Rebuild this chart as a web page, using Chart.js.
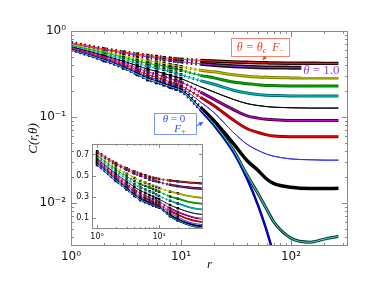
<!DOCTYPE html>
<html>
<head>
<meta charset="utf-8">
<script src="https://cdn.jsdelivr.net/npm/chart.js@4.4.0/dist/chart.umd.min.js"></script>
<style>
  html, body { margin: 0; padding: 0; background: #fff; }
  #wrap { position: relative; width: 385px; height: 298px; }
  #main { position: absolute; left: 0; top: 0; }
  #inset { position: absolute; left: 72px; top: 136px; }
</style>
</head>
<body>
<div id="wrap">
  <canvas id="main" width="385" height="298"></canvas>
  <canvas id="inset" width="140" height="108"></canvas>
</div>
<script>
const radii = [1, 2, 3, 4, 5, 6, 7, 8, 9, 10, 15, 20, 30, 40, 50, 60, 70, 100, 150, 200, 270];

// C(r, theta), top curve (theta = theta_c) to bottom curve (theta = 0)
const redTop   = [0.73, 0.62, 0.57, 0.54, 0.52, 0.505, 0.49, 0.482, 0.475, 0.47, 0.455, 0.447, 0.437, 0.432, 0.428, 0.426, 0.424, 0.422, 0.421, 0.42, 0.42];
const purple   = [0.715, 0.605, 0.555, 0.52, 0.50, 0.482, 0.465, 0.455, 0.447, 0.44, 0.415, 0.403, 0.39, 0.383, 0.379, 0.377, 0.376, 0.375, 0.374, 0.374, 0.374];
const olive    = [0.70, 0.58, 0.52, 0.48, 0.45, 0.435, 0.42, 0.405, 0.395, 0.385, 0.35, 0.335, 0.31, 0.298, 0.292, 0.289, 0.287, 0.285, 0.284, 0.284, 0.284];
const green    = [0.69, 0.56, 0.495, 0.45, 0.42, 0.405, 0.39, 0.375, 0.362, 0.35, 0.305, 0.285, 0.255, 0.243, 0.237, 0.233, 0.232, 0.23, 0.229, 0.229, 0.229];
const cyan     = [0.675, 0.54, 0.47, 0.42, 0.39, 0.372, 0.355, 0.34, 0.325, 0.31, 0.265, 0.24, 0.205, 0.19, 0.183, 0.179, 0.178, 0.176, 0.175, 0.175, 0.175];
const blackMid = [0.66, 0.52, 0.445, 0.395, 0.36, 0.34, 0.32, 0.305, 0.292, 0.28, 0.225, 0.195, 0.16, 0.143, 0.136, 0.132, 0.13, 0.128, 0.127, 0.127, 0.127];
const magenta  = [0.65, 0.505, 0.425, 0.37, 0.335, 0.313, 0.295, 0.28, 0.267, 0.255, 0.195, 0.16, 0.122, 0.103, 0.097, 0.094, 0.093, 0.091, 0.091, 0.091, 0.091];
const red      = [0.64, 0.49, 0.41, 0.35, 0.31, 0.29, 0.27, 0.255, 0.242, 0.23, 0.17, 0.135, 0.092, 0.073, 0.066, 0.062, 0.06, 0.059, 0.059, 0.059, 0.059];
const blue     = [0.63, 0.48, 0.395, 0.335, 0.295, 0.274, 0.255, 0.24, 0.228, 0.218, 0.15, 0.112, 0.066, 0.048, 0.041, 0.037, 0.035, 0.0325, 0.0318, 0.0315, 0.0315];
const blackLow = [0.62, 0.47, 0.385, 0.325, 0.285, 0.263, 0.245, 0.232, 0.22, 0.21, 0.13, 0.09, 0.049, 0.031, 0.024, 0.019, 0.0168, 0.0152, 0.0147, 0.0147, 0.0148];
const teal     = [0.61, 0.46, 0.375, 0.315, 0.275, 0.255, 0.24, 0.226, 0.215, 0.205, 0.123, 0.083, 0.041, 0.021, 0.013, 0.0085, 0.006, 0.0039, 0.0035, 0.0038, 0.0041];
const navy     = [0.60, 0.45, 0.37, 0.31, 0.27, 0.25, 0.235, 0.22, 0.21, 0.20, 0.12, 0.08, 0.039, 0.019, 0.0095, 0.0048, 0.0024, 0.0003, null, null, null];

const series = [redTop, purple, olive, green, cyan, blackMid, magenta, red, blue, blackLow, teal, navy];
const lineColors = ['#ff2a1a', '#9a30d8', '#cccc00', '#00b400', '#00cccc', '#000000', '#d400d4', '#ff0000', '#3030ff', '#000000', '#40e0d0', '#0000ff'];
const bandColors = ['#2a0000', '#1a0a1a', '#7c7c00', '#007400', '#006c6c', '#000000', '#4c004c', '#8c0000', '#3030ff', '#000000', '#0c3434', '#000078'];
const bandWidths = [3.5, 4, 3, 3, 3, 1, 3, 3, 1, 3.5, 3, 2.5];

// tick values / labels
const mainXMajor = [1, 10, 100];
const mainXMinor = [2, 3, 4, 5, 6, 7, 8, 9, 20, 30, 40, 50, 60, 70, 80, 90, 200, 300];
const mainYMajor = [0.01, 0.1, 1];
const mainYMinor = [0.004, 0.005, 0.006, 0.007, 0.008, 0.009, 0.02, 0.03, 0.04, 0.05, 0.06, 0.07, 0.08, 0.09, 0.2, 0.3, 0.4, 0.5, 0.6, 0.7, 0.8, 0.9];
const insetXMajor = [1, 10];
const insetXMinor = [2, 3, 4, 5, 6, 7, 8, 9, 20, 30, 40, 50];
const insetYTicks = [0.1, 0.3, 0.5, 0.7];
const powLabels = { 1: '10\u2070', 10: '10\u00b9', 100: '10\u00b2', 0.1: '10\u207b\u00b9', 0.01: '10\u207b\u00b2' };

function tickList(major, minor) {
  return major.map(v => ({ value: v, major: true }))
    .concat(minor.map(v => ({ value: v, major: false })));
}

function buildDatasets(k) {
  const ds = [];
  series.forEach((vals, i) => {
    const pts = radii.map((r, j) => ({ x: r, y: vals[j] }));
    ds.push({
      data: pts, order: 1, borderColor: lineColors[i], borderWidth: k.line,
      pointRadius: 0, cubicInterpolationMode: 'monotone'
    });
    ds.push({
      data: pts, order: 2, borderColor: bandColors[i], borderWidth: bandWidths[i] * k.band,
      pointStyle: 'rect', pointBorderWidth: 0, pointBackgroundColor: '#000',
      pointRadius: c => (c.raw && c.raw.x <= k.markMax) ? k.mark : 0,
      cubicInterpolationMode: 'monotone',
      segment: { borderDash: c => c.p1.parsed.x <= 15 ? [1.5, 3] : undefined }
    });
  });
  return ds;
}

// frame and inward ticks on all four sides
const frameTicks = {
  id: 'frameTicks',
  beforeDraw(chart) {
    const { ctx, chartArea: a } = chart;
    ctx.save();
    ctx.fillStyle = '#fff';
    ctx.fillRect(a.left, a.top, a.right - a.left, a.bottom - a.top);
    ctx.restore();
  },
  afterDatasetsDraw(chart, args, opts) {
    const { ctx, chartArea: a, scales } = chart;
    ctx.save();
    ctx.strokeStyle = '#8a8a8a';
    ctx.lineWidth = 1;
    ctx.beginPath();
    scales.x.ticks.forEach(t => {
      const p = Math.round(scales.x.getPixelForValue(t.value)) + 0.5;
      const L = t.major ? opts.major : opts.minor;
      ctx.moveTo(p, a.bottom); ctx.lineTo(p, a.bottom - L);
      ctx.moveTo(p, a.top); ctx.lineTo(p, a.top + L);
    });
    scales.y.ticks.forEach(t => {
      const p = Math.round(scales.y.getPixelForValue(t.value)) + 0.5;
      const L = t.major ? opts.major : opts.minor;
      ctx.moveTo(a.left, p); ctx.lineTo(a.left + L, p);
      ctx.moveTo(a.right, p); ctx.lineTo(a.right - L, p);
    });
    ctx.stroke();
    ctx.strokeRect(Math.round(a.left) + 0.5, Math.round(a.top) + 0.5,
      Math.round(a.right - a.left) - 1, Math.round(a.bottom - a.top) - 1);
    ctx.restore();
  }
};

function drawRuns(ctx, runs, cx, cy, color) {
  let w = 0;
  runs.forEach(r => {
    ctx.font = (r[2] ? 'italic ' : '') + r[1] + 'px "Liberation Serif", serif';
    r.w = ctx.measureText(r[0]).width;
    w += r.w;
  });
  let x = cx - w / 2;
  ctx.fillStyle = color;
  ctx.textAlign = 'left';
  ctx.textBaseline = 'middle';
  runs.forEach(r => {
    ctx.font = (r[2] ? 'italic ' : '') + r[1] + 'px "Liberation Serif", serif';
    ctx.fillText(r[0], x, cy + (r[3] || 0));
    x += r.w;
  });
}

function arrow(ctx, x0, y0, x1, y1, color) {
  ctx.strokeStyle = color;
  ctx.fillStyle = color;
  ctx.lineWidth = 1;
  ctx.beginPath(); ctx.moveTo(x0, y0); ctx.lineTo(x1, y1); ctx.stroke();
  const a = Math.atan2(y1 - y0, x1 - x0), h = 4.5;
  ctx.beginPath();
  ctx.moveTo(x1, y1);
  ctx.lineTo(x1 - h * Math.cos(a - 0.5), y1 - h * Math.sin(a - 0.5));
  ctx.lineTo(x1 - h * Math.cos(a + 0.5), y1 - h * Math.sin(a + 0.5));
  ctx.closePath();
  ctx.fill();
}

const notes = {
  id: 'notes',
  afterDraw(chart) {
    const { ctx, scales: { x, y } } = chart;
    const P = (r, c) => [x.getPixelForValue(r), y.getPixelForValue(c)];
    ctx.save();

    // theta = theta_c  F_-
    let [bx, by] = P(52.8, 0.648);
    ctx.fillStyle = '#fff';
    ctx.fillRect(bx - 29, by - 9, 58, 18);
    ctx.strokeStyle = '#f3836f';
    ctx.strokeRect(Math.round(bx - 29) + 0.5, Math.round(by - 9) + 0.5, 58, 18);
    drawRuns(ctx, [['\u03b8 = \u03b8', 12, true], ['c', 8, true, 3], ['  F', 12, true], ['\u2212', 8, false, 3]], bx, by + 0.5, '#f0402c');
    let [a0x, a0y] = P(59.9, 0.512), [a1x, a1y] = P(55.1, 0.46);
    arrow(ctx, a0x, a0y, a1x, a1y, '#f0402c');

    // theta = 1.0
    [bx, by] = P(189, 0.343);
    ctx.fillStyle = '#fff';
    ctx.fillRect(bx - 20, by - 6, 40, 12);
    drawRuns(ctx, [['\u03b8', 13, true], [' = 1.0', 13, false]], bx, by, '#9a40d8');

    // theta = 0, F_+
    [bx, by] = P(8.82, 0.0834);
    ctx.fillStyle = '#fff';
    ctx.fillRect(bx - 21, by - 10.5, 42, 21);
    ctx.strokeStyle = '#7f9cf2';
    ctx.strokeRect(Math.round(bx - 21) + 0.5, Math.round(by - 10.5) + 0.5, 42, 21);
    drawRuns(ctx, [['\u03b8', 11, true], [' = 0', 11, false]], bx - 1, by - 5, '#2a55f0');
    drawRuns(ctx, [['F', 11, true], ['+', 8, false, 3]], bx + 5, by + 5, '#2a55f0');
    [a0x, a0y] = P(13.7, 0.0786);
    [a1x, a1y] = P(15.85, 0.0863);
    arrow(ctx, a0x, a0y, a1x, a1y, '#2a55f0');

    ctx.restore();
  }
};

const tickFont = { family: 'DejaVu Sans', size: 12 };
const noGrid = { display: false, drawTicks: false, tickLength: 0 };

new Chart(document.getElementById('main'), {
  type: 'line',
  data: { datasets: buildDatasets({ line: 1, band: 1, mark: 2.2, markMax: 10 }) },
  options: {
    responsive: false,
    animation: false,
    layout: { padding: { top: 31, right: 37, left: 0, bottom: 0 } },
    plugins: {
      legend: { display: false },
      tooltip: { enabled: false },
      frameTicks: { major: 6, minor: 3 }
    },
    scales: {
      x: {
        type: 'logarithmic', min: 1, max: 330,
        grid: noGrid, border: { display: false },
        afterBuildTicks: s => { s.ticks = tickList(mainXMajor, mainXMinor); },
        afterFit: s => { s.height = 52; },
        ticks: { autoSkip: false, maxRotation: 0, padding: 4, color: '#111', font: tickFont,
          callback: v => powLabels[v] || '' },
        title: { display: true, text: 'r', color: '#111',
          font: { family: 'Liberation Serif', style: 'italic', size: 13 }, padding: { top: 0, bottom: 26 } }
      },
      y: {
        type: 'logarithmic', min: 0.00316, max: 1,
        grid: noGrid, border: { display: false },
        afterBuildTicks: s => { s.ticks = tickList(mainYMajor, mainYMinor); },
        afterFit: s => { s.width = 71; },
        ticks: { autoSkip: false, padding: 5, color: '#111', font: tickFont,
          callback: v => powLabels[v] || '' },
        title: { display: true, text: 'C(r,\u03b8)', color: '#111',
          font: { family: 'Liberation Serif', style: 'italic', size: 13 }, padding: { top: 26, bottom: 0 } }
      }
    }
  },
  plugins: [frameTicks, notes]
});

new Chart(document.getElementById('inset'), {
  type: 'line',
  data: { datasets: buildDatasets({ line: 0.8, band: 0.6, mark: 1.7, markMax: 20 }) },
  options: {
    responsive: false,
    animation: false,
    layout: { padding: { top: 6, right: 9, left: 0, bottom: 0 } },
    plugins: {
      legend: { display: false },
      tooltip: { enabled: false },
      frameTicks: { major: 4, minor: 2 }
    },
    scales: {
      x: {
        type: 'logarithmic', min: 0.83, max: 51,
        grid: noGrid, border: { display: false },
        afterBuildTicks: s => { s.ticks = tickList(insetXMajor, insetXMinor); },
        afterFit: s => { s.height = 15; },
        ticks: { autoSkip: false, maxRotation: 0, padding: 3, color: '#111',
          font: { family: 'DejaVu Sans', size: 8 }, callback: v => powLabels[v] || '' }
      },
      y: {
        type: 'linear', min: 0, max: 0.8,
        grid: noGrid, border: { display: false },
        afterBuildTicks: s => { s.ticks = insetYTicks.map(v => ({ value: v, major: true })); },
        afterFit: s => { s.width = 20; },
        ticks: { autoSkip: false, padding: 3, color: '#111',
          font: { family: 'DejaVu Sans', size: 8 }, callback: v => v.toFixed(1) }
      }
    }
  },
  plugins: [frameTicks]
});
</script>
</body>
</html>
